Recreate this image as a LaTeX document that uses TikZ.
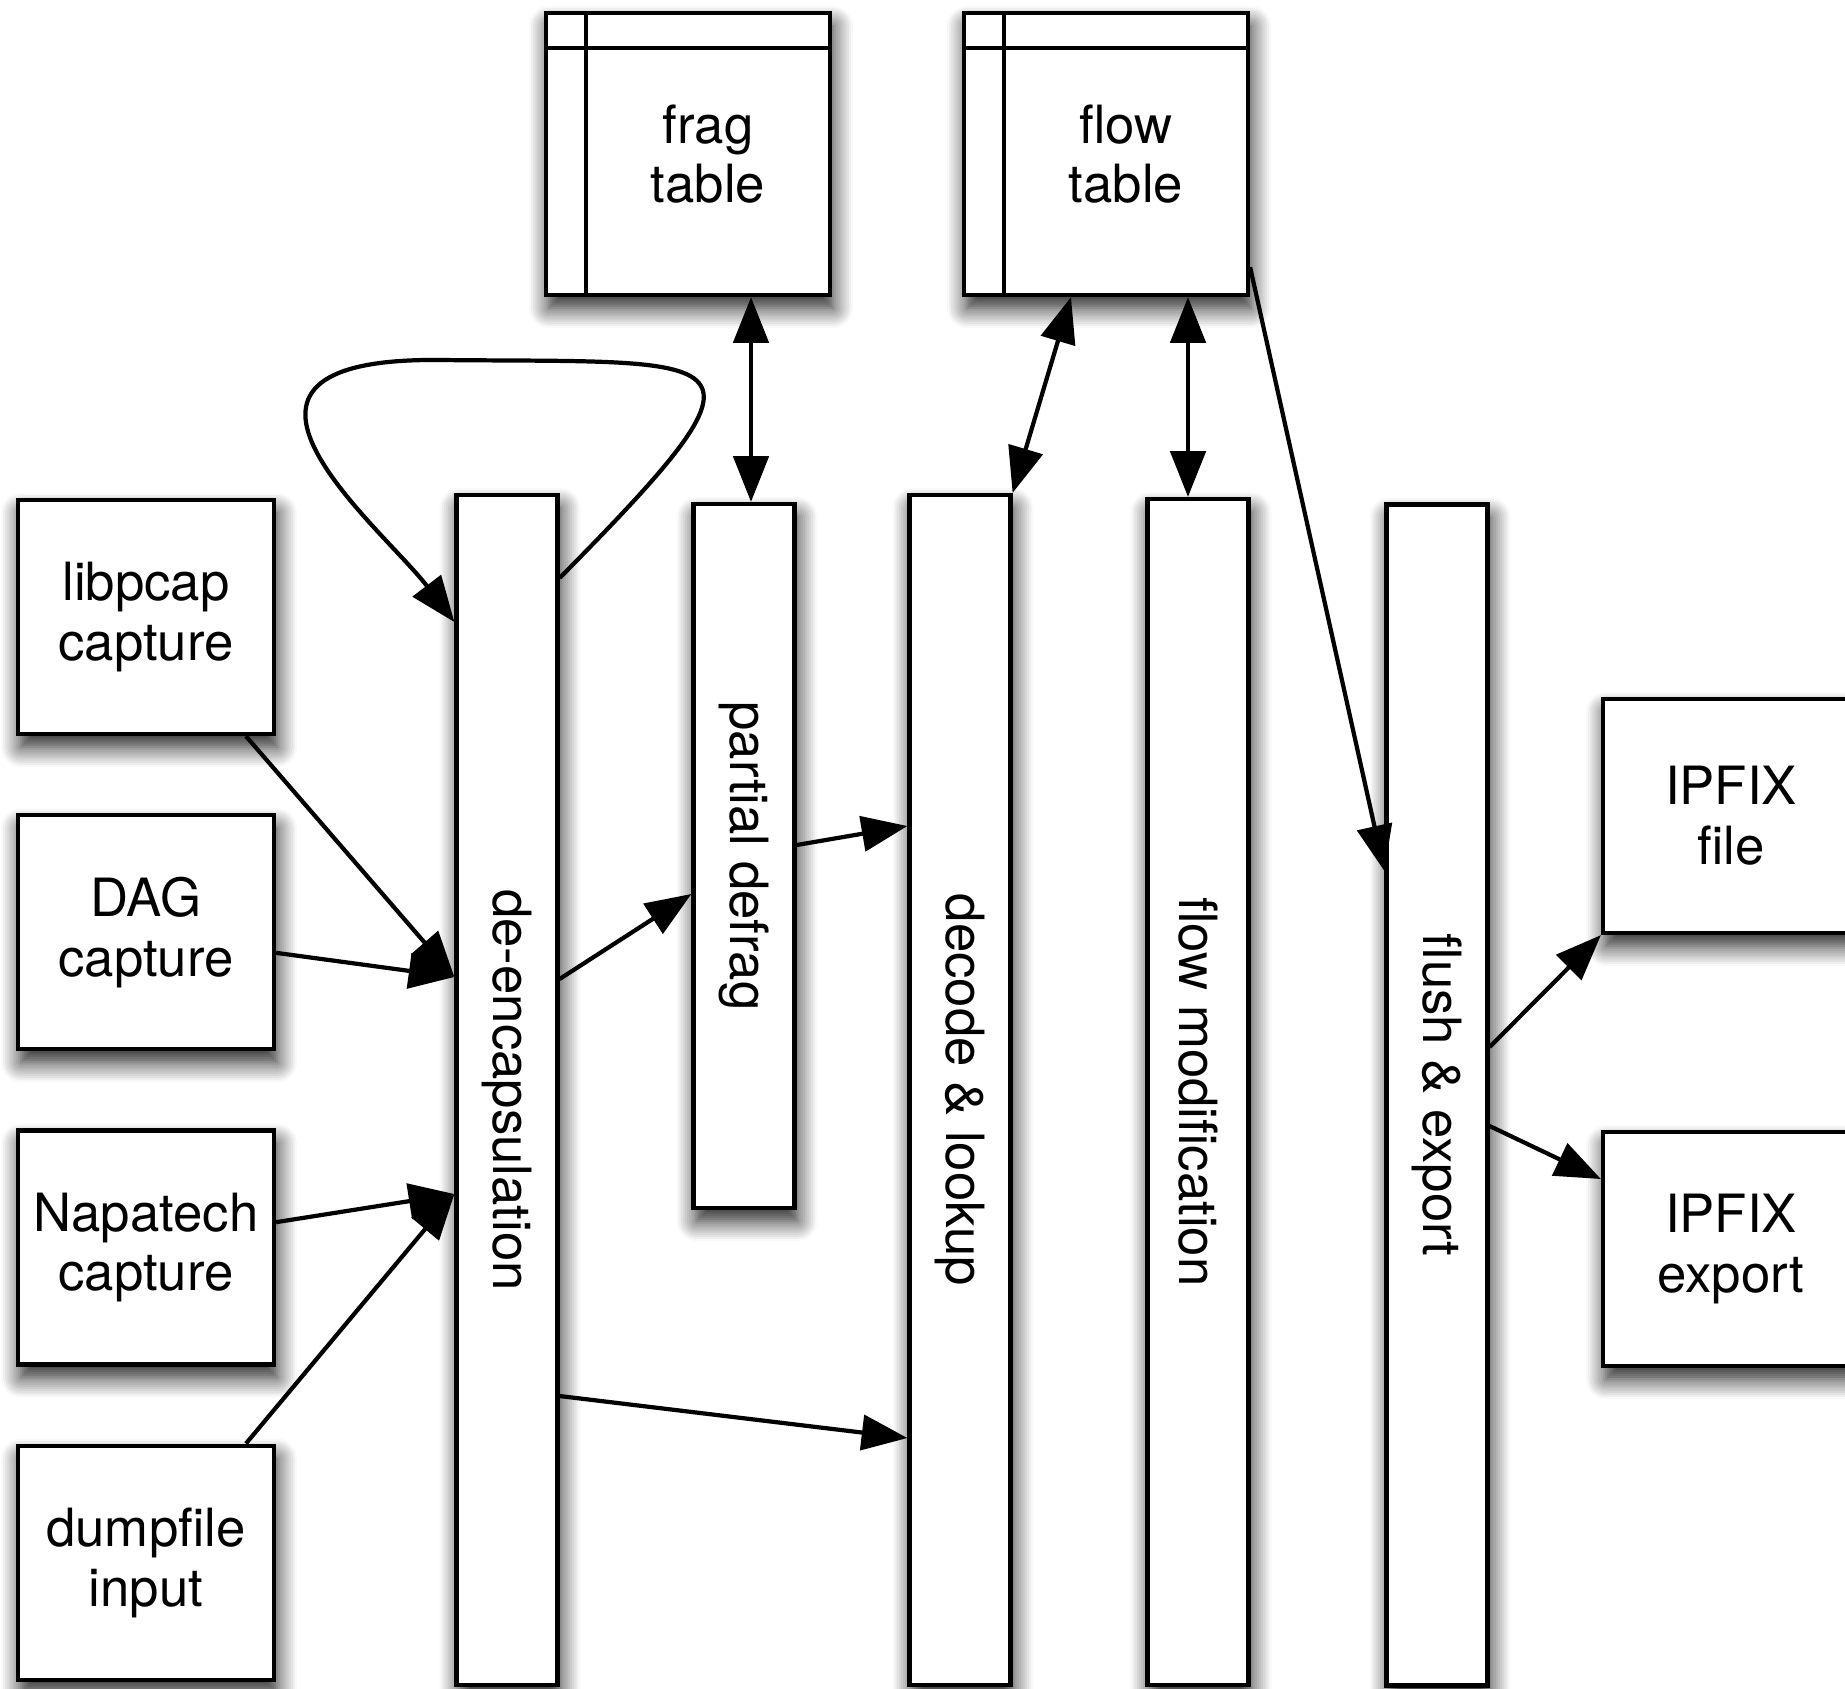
\documentclass[tikz,border=0pt]{standalone}
\usepackage{fontspec}
\setmainfont{TeX Gyre Heros}
\usetikzlibrary{arrows.meta}
\usetikzlibrary{positioning}
\usetikzlibrary{shadows.blur}

\begin{document}
\begin{tikzpicture}[y=-1cm,>={Triangle[length=13pt,width=10pt]},line width=1.2pt,
  node distance=0.77cm,
  every node/.style={font=\fontsize{15}{17}\selectfont},
  box/.style={rectangle,draw,fill=white,align=center,inner sep=0pt,
    minimum width=2.56cm,minimum height=2.34cm,
    blur shadow={shadow xshift=0.3mm,shadow yshift=-1.3mm,shadow blur radius=2mm,
      shadow blur steps=10,shadow opacity=90}},
  bar/.style={box,minimum width=1.01cm},
  tablebox/.style={box,minimum width=2.84cm,minimum height=2.82cm,
    path picture={
      \draw ([yshift=-3.5mm]path picture bounding box.north west) -- ([yshift=-3.5mm]path picture bounding box.north east);
      \draw ([xshift=4mm]path picture bounding box.north west) -- ([xshift=4mm]path picture bounding box.south west);}}]

  \useasboundingbox (0,0) rectangle (18.45,16.88);

  % capture sources
  \node[box] (libpcap) at (1.46,6.17) {libpcap\\capture};
  \node[box] (dag) [below=of libpcap] {DAG\\capture};
  \node[box] (napatech) [below=of dag] {Napatech\\capture};
  \node[box] (dumpfile) [below=of napatech] {dumpfile\\input};

  % processing stages
  \node[bar,minimum height=11.90cm] (deencap) at (5.07,10.90) {\rotatebox{-90}{de-encapsulation}};
  \node[bar,minimum height=7.04cm] (defrag) at (7.44,8.56) {\rotatebox{-90}{partial defrag}};
  \node[bar,minimum height=11.90cm] (decode) at (9.60,10.90) {\rotatebox{-90}{decode \& lookup}};
  \node[bar,minimum height=11.86cm] (flowmod) at (11.98,10.92) {\rotatebox{-90}{flow modification}};
  \node[bar,minimum height=11.81cm] (flush) at (14.37,10.95) {\rotatebox{-90}{flush \& export}};

  % tables
  \node[tablebox] (fragtab) at (6.88,1.54) {};
  \node[tablebox] (flowtab) at (11.06,1.54) {};
  \node[align=center] (fragtext) at ([xshift=2mm]fragtab.center) {frag\\table};
  \node[align=center] (flowtext) at ([xshift=2mm]flowtab.center) {flow\\table};

  % outputs
  \node[box] (ipfixfile) at (17.31,8.16) {IPFIX\\file};
  \node[box] (ipfixexp) [below=1.95cm of ipfixfile] {IPFIX\\export};

  \draw[->] (libpcap.-50) -- (deencap.west |- 0,9.77);
  \draw[->] (dag.-9) -- (deencap.west |- 0,9.77);
  \draw[->] (napatech.11) -- (deencap.west |- 0,11.94);
  \draw[->] (dumpfile.50) -- (deencap.west |- 0,11.94);

  \draw[->] (deencap.east |- 0,5.78) .. controls (7.9,3.45) and (7.4,3.63) .. (4.4,3.60)
    .. controls (1.7,3.57) and (3.82,5.27) .. (deencap.west |- 0,6.22);

  \draw[->] (deencap.east |- 0,9.79) -- (defrag.west |- 0,8.94);
  \draw[->] (defrag.east |- 0,8.45) -- (decode.west |- 0,8.26);
  \draw[->] (deencap.east |- 0,13.96) -- (decode.west |- 0,14.38);

  \draw[<->] (fragtab.south -| 7.51,0) -- (defrag.north -| 7.51,0);
  \draw[<->] (flowtab.south -| 10.71,0) -- (decode.north east);
  \draw[<->] (flowtab.south -| 11.88,0) -- (flowmod.north -| 11.88,0);
  \draw[->] ([yshift=3mm]flowtab.south east) -- (flush.west |- 0,8.71);

  \draw[->] (flush.east |- 0,10.47) -- (ipfixfile.south west);
  \draw[->] (flush.east |- 0,11.26) -- (ipfixexp.west |- 0,11.79);

\end{tikzpicture}
\end{document}
